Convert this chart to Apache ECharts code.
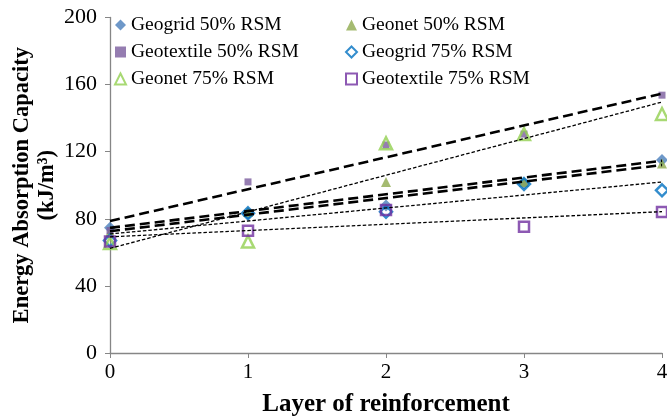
<!DOCTYPE html>
<html>
<head>
<meta charset="utf-8">
<script src="https://cdn.jsdelivr.net/npm/echarts@6/dist/echarts.min.js"></script>
<style>html,body{margin:0;padding:0;background:#fff}#c{width:667px;height:418px}</style>
</head>
<body>
<div id="c"></div>
<script>
// Data
const layers = [0, 1, 2, 3, 4];
const geogrid50 = [74.7, 83, 88, 101, 115];
const geonet50 = [72, 84, 102, 102, 113];
const geotextile50 = [73, 102, 124, 130.5, 153.7];
const geogrid75 = [67, 83.3, 84.2, 100.7, 97];
const geonet75 = [65.5, 66.4, 125, 130.5, 142.5];
const geotextile75 = [66.4, 72.9, 85.2, 75.3, 84];
const yTicks = [0, 40, 80, 120, 160, 200];
const xTicks = [0, 1, 2, 3, 4];

function pts(ys) { return layers.map((x, i) => [x, ys[i]]); }
function trend(ys) {
  const n = layers.length;
  const mx = layers.reduce((a, b) => a + b, 0) / n;
  const my = ys.reduce((a, b) => a + b, 0) / n;
  let sxy = 0, sxx = 0;
  layers.forEach((x, i) => { sxy += (x - mx) * (ys[i] - my); sxx += (x - mx) * (x - mx); });
  const b = sxy / sxx, a = my - b * mx;
  const x0 = layers[0], x1 = layers[n - 1];
  return [[x0, a + b * x0], [x1, a + b * x1]];
}

const font = 'Liberation Serif';
const scatter = (name, ys, symbol, size, style, z) => ({
  name, type: 'scatter', data: pts(ys), symbol, symbolSize: size, itemStyle: style, z
});
const tline = (ys, long) => ({
  type: 'line', data: trend(ys), showSymbol: false, symbol: 'none', silent: true, z: 10,
  lineStyle: long ? { color: '#000', width: 2.6, type: [10, 5] } : { color: '#000', width: 1.3, type: [3.5, 2] }
});
const legendText = { fontFamily: font, fontSize: 19.5, color: '#000' };

const chart = echarts.init(document.getElementById('c'));
chart.setOption({
  animation: false,
  grid: { left: 110, right: 5, top: 17.5, bottom: 65, containLabel: false, outerBoundsMode: 'none' },
  xAxis: {
    type: 'value', min: 0, max: 4, interval: 1,
    name: 'Layer of reinforcement', nameLocation: 'middle', nameGap: 39, nameMoveOverlap: false,
    nameTextStyle: { fontFamily: font, fontWeight: 'bold', fontSize: 25, color: '#000' },
    axisLine: { lineStyle: { color: '#868686', width: 1.3 } },
    axisTick: { show: true, length: 5, lineStyle: { color: '#868686' } },
    axisLabel: { fontFamily: font, fontSize: 21, color: '#000', margin: 9,
      formatter: v => xTicks.includes(v) ? String(v) : '' },
    splitLine: { show: false }
  },
  yAxis: {
    type: 'value', min: 0, max: 200, interval: 40,
    name: 'Energy Absorption Capacity\n(kJ/m³)', nameLocation: 'middle', nameGap: 50, nameRotate: 90, nameMoveOverlap: false,
    nameTextStyle: { fontFamily: font, fontWeight: 'bold', fontSize: 22.5, color: '#000', lineHeight: 25 },
    axisLine: { show: true, lineStyle: { color: '#868686', width: 1.3 } },
    axisTick: { show: true, length: 5, lineStyle: { color: '#868686' } },
    axisLabel: { fontFamily: font, fontSize: 22, color: '#000', margin: 13,
      formatter: v => yTicks.includes(v) ? String(v) : '' },
    splitLine: { show: false }
  },
  legend: [
    { orient: 'vertical', left: 109, top: 10, itemWidth: 11, itemHeight: 11, itemGap: 7,
      textStyle: legendText,
      data: ['Geogrid 50% RSM', 'Geotextile 50% RSM', 'Geonet 75% RSM'] },
    { orient: 'vertical', left: 340, top: 10, itemWidth: 11, itemHeight: 11, itemGap: 7,
      textStyle: legendText,
      data: ['Geonet 50% RSM', 'Geogrid 75% RSM', 'Geotextile 75% RSM'] }
  ],
  series: [
    scatter('Geogrid 50% RSM', geogrid50, 'diamond', 12, { color: '#4A7EBB' }, 2),
    scatter('Geonet 50% RSM', geonet50, 'triangle', 10, { color: '#8EAA4E' }, 2),
    scatter('Geotextile 50% RSM', geotextile50, 'rect', 7, { color: '#7A5C9E' }, 2),
    scatter('Geogrid 75% RSM', geogrid75, 'diamond', 12, { color: 'rgba(255,255,255,0)', borderColor: '#0070C0', borderWidth: 2.5 }, 3),
    scatter('Geonet 75% RSM', geonet75, 'triangle', 12, { color: 'rgba(255,255,255,0)', borderColor: '#92D050', borderWidth: 2.5 }, 3),
    scatter('Geotextile 75% RSM', geotextile75, 'rect', 10, { color: 'rgba(255,255,255,0)', borderColor: '#7030A0', borderWidth: 2.5 }, 3),
    tline(geogrid50, true),
    tline(geonet50, true),
    tline(geotextile50, true),
    tline(geogrid75, false),
    tline(geonet75, false),
    tline(geotextile75, false)
  ]
});
</script>
</body>
</html>
